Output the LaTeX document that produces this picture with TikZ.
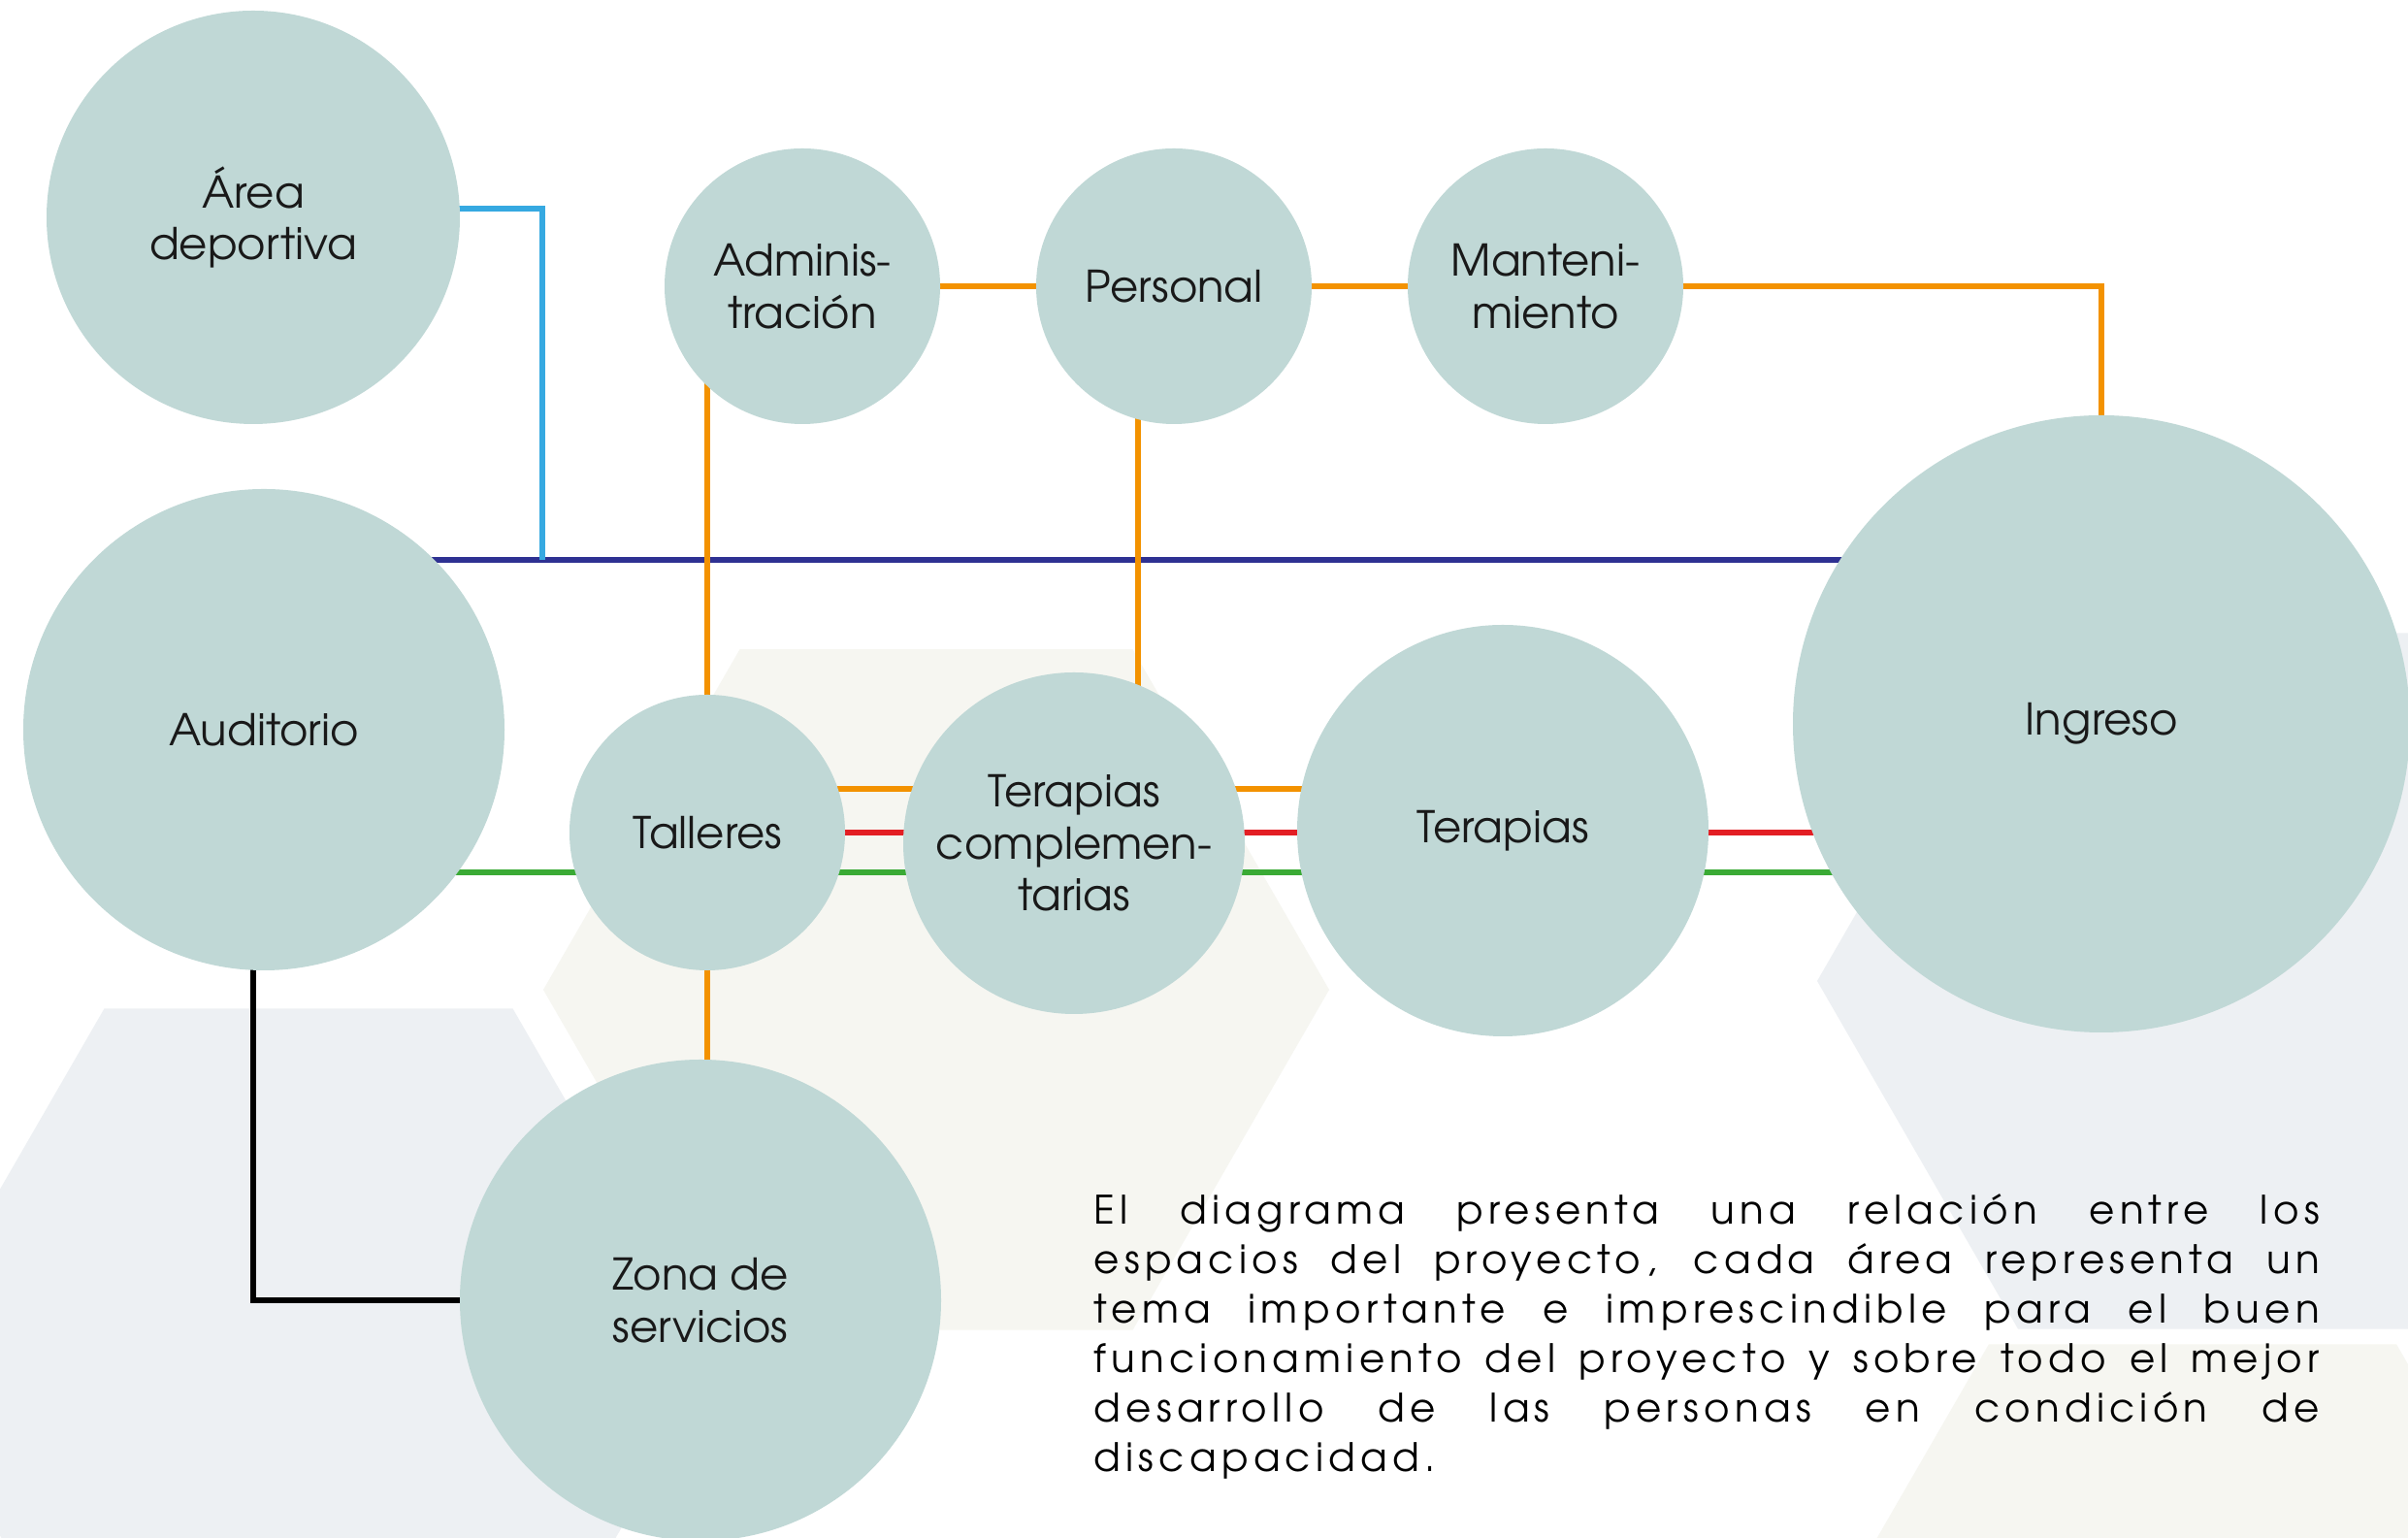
\documentclass[tikz,border=0pt]{standalone}
\usepackage{fontspec}
\setmainfont{TeX Gyre Adventor}

\pgfdeclarelayer{back}
\pgfdeclarelayer{wires}
\pgfsetlayers{back,wires,main}

\definecolor{espacio}{RGB}{192,216,214}
\definecolor{hexgris}{RGB}{237,240,243}
\definecolor{hexcrema}{RGB}{246,246,241}
\definecolor{naranja}{RGB}{243,146,0}
\definecolor{rojo}{RGB}{227,30,36}
\definecolor{verde}{RGB}{58,170,53}
\definecolor{celeste}{RGB}{54,169,225}
\definecolor{marino}{RGB}{46,49,146}

\begin{document}
\begin{tikzpicture}[
    espacio/.style={circle, fill=espacio, inner sep=0pt, align=center,
        text=black!90, font=\fontsize{12.8}{15.2}\selectfont},
    linea/.style={line width=1.95pt, line cap=round},
    nota/.style={anchor=north west, inner sep=0pt, align=left,
        font=\fontsize{11.5}{14.5}\selectfont\addfontfeature{LetterSpace=13}}
]
\useasboundingbox (0,0) rectangle (24.82,15.85);

% Spaces
\node[espacio, minimum size=4.26cm] (area) at (2.61,13.61) {Área\\deportiva};
\node[espacio, minimum size=2.84cm] (admin) at (8.27,12.90) {Adminis-\\tración};
\node[espacio, minimum size=2.84cm] (personal) at (12.10,12.90) {Personal};
\node[espacio, minimum size=2.84cm] (mant) at (15.93,12.90) {Manteni-\\miento};
\node[espacio, minimum size=4.96cm] (auditorio) at (2.72,8.33) {Auditorio};
\node[espacio, minimum size=2.84cm] (talleres) at (7.29,7.27) {Talleres};
\node[espacio, minimum size=3.52cm] (tc) at (11.07,7.16) {Terapias\\complemen-\\tarias};
\node[espacio, minimum size=4.24cm] (terapias) at (15.49,7.29) {Terapias};
\node[espacio, minimum size=6.36cm] (ingreso) at (21.66,8.39) {Ingreso};
\node[espacio, minimum size=4.96cm] (zona) at (7.22,2.45) {Zona de\\servicios};

% Text
\node[nota] (texto) at (11.27,3.55) {%
\makebox[12.63cm][s]{El diagrama presenta una relación entre los}\\
\makebox[12.63cm][s]{espacios del proyecto, cada área representa un}\\
\makebox[12.63cm][s]{tema importante e imprescindible para el buen}\\
\makebox[12.63cm][s]{funcionamiento del proyecto y sobre todo el mejor}\\
\makebox[12.63cm][s]{desarrollo de las personas en condición de}\\
discapacidad.};

% Background hexagons
\begin{pgfonlayer}{back}
\fill[white] (0,0) rectangle (24.82,15.85);
\fill[hexcrema] (9.65,5.65) ++(0:4.05) -- ++(120:4.05) -- ++(180:4.05)
    -- ++(240:4.05) -- ++(300:4.05) -- ++(0:4.05) -- cycle;
\fill[hexgris] (3.18,1.81) ++(0:4.21) -- ++(120:4.21) -- ++(180:4.21)
    -- ++(240:4.21) -- ++(300:4.21) -- ++(0:4.21) -- cycle;
\fill[hexgris] (22.87,5.74) ++(0:4.14) -- ++(120:4.14) -- ++(180:4.14)
    -- ++(240:4.14) -- ++(300:4.14) -- ++(0:4.14) -- cycle;
\fill[hexcrema] (22.60,-1.64) ++(0:4.20) -- ++(120:4.20) -- ++(180:4.20)
    -- ++(240:4.20) -- ++(300:4.20) -- ++(0:4.20) -- cycle;
\end{pgfonlayer}

% Connectors
\begin{pgfonlayer}{wires}
\coordinate (eje) at ([yshift=1.75cm]auditorio.center);
\coordinate (cruce) at (5.59,10.08);
\coordinate (pbajo) at ([xshift=-0.37cm]personal.center);
\coordinate (filaN) at ([yshift=0.45cm]talleres.center);
\coordinate (filaS) at ([yshift=-0.41cm]talleres.center);

\draw[linea, marino] (eje) -- (eje -| ingreso.center);
\draw[linea, celeste, line cap=butt] ([yshift=0.09cm]area.center) -| (cruce);

\draw[linea, naranja] (admin.center) -- (personal.center);
\draw[linea, naranja] (personal.center) -- (mant.center);
\draw[linea, naranja] (mant.center) -| (ingreso.center);
\draw[linea, naranja] (talleres.center |- admin.center) -- (talleres.center);
\draw[linea, naranja] (pbajo) -- (pbajo |- tc.center);
\draw[linea, naranja] (talleres.center) -- (talleres.center |- zona.center);
\draw[linea, naranja] (filaN) -- (filaN -| tc.center);
\draw[linea, naranja] (filaN -| tc.center) -- (filaN -| terapias.center);

\draw[linea, rojo] (talleres.center) -- (talleres.center -| tc.center);
\draw[linea, rojo] (talleres.center -| tc.center) -- (talleres.center -| terapias.center);
\draw[linea, rojo] (talleres.center -| terapias.center) -- (talleres.center -| ingreso.center);

\draw[linea, verde] (filaS -| auditorio.center) -- (filaS);
\draw[linea, verde] (filaS) -- (filaS -| tc.center);
\draw[linea, verde] (filaS -| tc.center) -- (filaS -| terapias.center);
\draw[linea, verde] (filaS -| terapias.center) -- (filaS -| ingreso.center);

\draw[linea, black] ([xshift=-0.11cm]auditorio.center) |- (zona.center);
\end{pgfonlayer}

\end{tikzpicture}
\end{document}
